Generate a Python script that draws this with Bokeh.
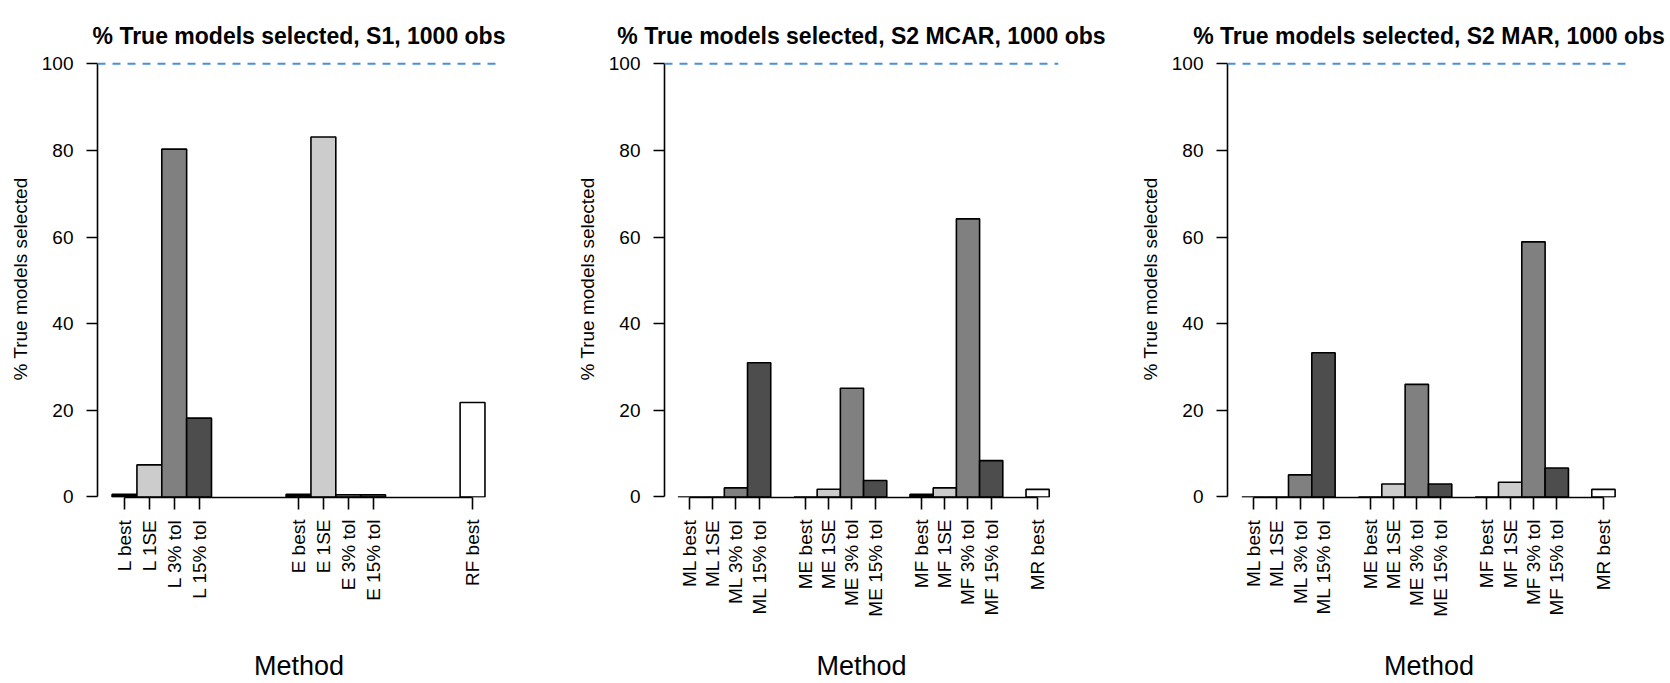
import math
from bokeh.plotting import figure
from bokeh.models import FixedTicker, Span, Range1d
from bokeh.layouts import row
from bokeh.embed import file_html
from bokeh.resources import INLINE

# ---------------- data ----------------
titles = [
    "% True models selected, S1, 1000 obs",
    "% True models selected, S2 MCAR, 1000 obs",
    "% True models selected, S2 MAR, 1000 obs",
]
y_label = "% True models selected"
x_label = "Method"
y_ticks = [0, 20, 40, 60, 80, 100]
reference_line = 100

s1_groups = [["L best", "L 1SE", "L 3% tol", "L 15% tol"],
             ["E best", "E 1SE", "E 3% tol", "E 15% tol"],
             ["RF best"]]
s1_values = [0.6, 7.4, 80.3, 18.2,
             0.6, 83.1, 0.5, 0.5,
             21.8]

s2_groups = [["ML best", "ML 1SE", "ML 3% tol", "ML 15% tol"],
             ["ME best", "ME 1SE", "ME 3% tol", "ME 15% tol"],
             ["MF best", "MF 1SE", "MF 3% tol", "MF 15% tol"],
             ["MR best"]]
s2_mcar_values = [0.0, 0.0, 2.1, 31.0,
                  0.0, 1.8, 25.1, 3.8,
                  0.6, 2.1, 64.2, 8.4,
                  1.75]
s2_mar_values = [0.0, 0.0, 5.1, 33.3,
                 0.0, 3.0, 26.0, 3.0,
                 0.0, 3.4, 58.9, 6.7,
                 1.75]

rule_colors = {"best": "#000000", "1SE": "#cccccc", "3% tol": "#808080", "15% tol": "#4d4d4d"}
single_color = "#ffffff"

FONT = "Liberation Sans"

# panel layout: (groups, values, gap, border_left, frame_width, border_right,
#                x_start, x_end, title_center_x, method_standoff)
panels = [
    (s1_groups, s1_values, 3, 97, 403, 72, -1.086, 15.125, 296, 47),
    (s2_groups, s2_mcar_values, 1, 92, 394, 77, -1.078, 15.9, 861, 31),
    (s2_groups, s2_mar_values, 1, 92, 403, 40, -1.114, 16.16, 1427, 31),
]

TOP = 60
BOTTOM = 186
HEIGHT = 683
Y_START = -0.12
Y_END = 100.76
TITLE_STANDOFF = 24
TITLE_LINE_HEIGHT = 0.6


def build(title, groups, values, gap, bl, fw, br, xs, xe, fig_left, title_cx, so):
    labels, xpos, colors = [], [], []
    pos = 0
    for g in groups:
        for lab in g:
            labels.append(lab)
            xpos.append(pos)
            if len(g) == 1:
                colors.append(single_color)
            else:
                rule = lab.split(" ", 1)[1]
                colors.append(rule_colors[rule])
            pos += 1
        pos += gap

    W = bl + fw + br
    p = figure(width=W, height=HEIGHT,
               min_border_left=bl, min_border_right=br,
               min_border_top=TOP, min_border_bottom=BOTTOM,
               x_range=Range1d(xs, xe), y_range=Range1d(Y_START, Y_END),
               output_backend="svg", toolbar_location=None,
               background_fill_color="white", border_fill_color="white")
    p.outline_line_color = None
    p.grid.visible = False

    p.title.text = title
    p.title.align = "center"
    p.title.offset = title_cx - (fig_left + W / 2)
    p.title.text_font = FONT
    p.title.text_font_size = "23px"
    p.title.text_font_style = "bold"
    p.title.text_color = "#000000"
    p.title.text_line_height = TITLE_LINE_HEIGHT
    p.title.standoff = TITLE_STANDOFF

    p.vbar(x=xpos, top=values, bottom=0, width=1.0,
           fill_color=colors, line_color="#000000", line_width=1.6)

    p.add_layout(Span(location=reference_line, dimension="width",
                      line_color="#4a8fdf", line_width=2, line_dash="8 7"))

    xa = p.xaxis[0]
    xa.ticker = FixedTicker(ticks=xpos)
    xa.major_label_overrides = {x: l for x, l in zip(xpos, labels)}
    xa.major_label_orientation = math.pi / 2
    xa.bounds = (xpos[0], xpos[-1])
    xa.minor_tick_line_color = None
    xa.major_tick_in = 0
    xa.major_tick_out = 12
    xa.major_label_standoff = 10
    xa.major_label_text_font = FONT
    xa.major_label_text_font_size = "19px"
    xa.major_label_text_color = "#000000"
    xa.axis_line_width = 1.6
    xa.major_tick_line_width = 1.6
    xa.axis_label = x_label
    xa.axis_label_text_font = FONT
    xa.axis_label_text_font_size = "27px"
    xa.axis_label_text_font_style = "normal"
    xa.axis_label_text_color = "#000000"
    xa.axis_label_standoff = so

    ya = p.yaxis[0]
    ya.ticker = FixedTicker(ticks=y_ticks)
    ya.bounds = (y_ticks[0], y_ticks[-1])
    ya.minor_tick_line_color = None
    ya.major_tick_in = 0
    ya.major_tick_out = 11
    ya.major_label_standoff = 13
    ya.major_label_text_font = FONT
    ya.major_label_text_font_size = "19px"
    ya.major_label_text_color = "#000000"
    ya.axis_line_width = 1.6
    ya.major_tick_line_width = 1.6
    ya.axis_label = y_label
    ya.axis_label_text_font = FONT
    ya.axis_label_text_font_size = "19px"
    ya.axis_label_text_font_style = "normal"
    ya.axis_label_text_color = "#000000"
    ya.axis_label_standoff = 8
    return p, W


figs = []
left = 0
for t, (g, v, gap, bl, fw, br, xs, xe, tcx, so) in zip(titles, panels):
    p, W = build(t, g, v, gap, bl, fw, br, xs, xe, left, tcx, so)
    figs.append(p)
    left += W

layout = row(*figs)
open("out.html", "w").write(file_html(layout, INLINE))
